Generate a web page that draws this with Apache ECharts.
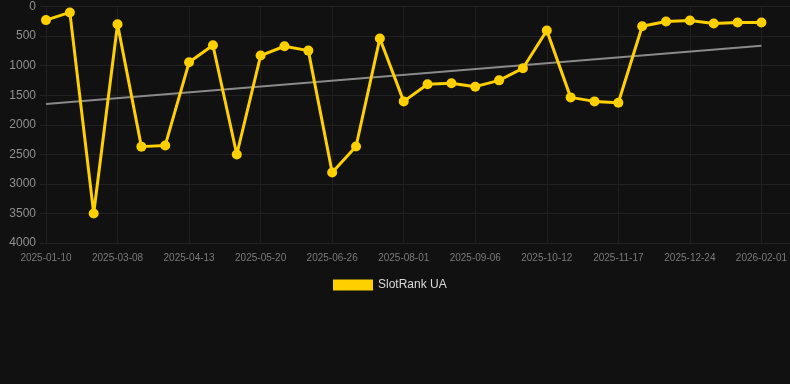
<!DOCTYPE html>
<html>
<head>
<meta charset="utf-8">
<script src="https://cdn.jsdelivr.net/npm/echarts@6/dist/echarts.min.js"></script>
<style>
html,body{margin:0;padding:0;background:#111111;}
#c{width:790px;height:384px;}
</style>
</head>
<body>
<div id="c"></div>
<script>
const dates = ['2025-01-10','2025-01-29','2025-02-17','2025-03-08','2025-03-20','2025-04-01','2025-04-13','2025-04-25','2025-05-08','2025-05-20','2025-06-01','2025-06-14','2025-06-26','2025-07-08','2025-07-20','2025-08-01','2025-08-13','2025-08-25','2025-09-06','2025-09-18','2025-09-30','2025-10-12','2025-10-24','2025-11-05','2025-11-17','2025-11-29','2025-12-11','2025-12-24','2026-01-06','2026-01-19','2026-02-01'];
const ranks = [230,100,3500,300,2370,2350,944,655,2503,830,672,746,2808,2367,540,1605,1316,1299,1356,1249,1045,407,1537,1605,1627,333,254,237,288,271,271];
const trendStart = 1650;
const trendEnd = 665;
const yTicks = [0,500,1000,1500,2000,2500,3000,3500,4000];
const seriesName = 'SlotRank UA';

const chart = echarts.init(document.getElementById('c'));
chart.setOption({
  backgroundColor: '#111111',
  animation: false,
  grid: [
    {left: 40, right: 0, top: 6.5, bottom: 141, containLabel: false},
    {left: 46, right: 28, top: 6.5, bottom: 141, containLabel: false}
  ],
  legend: {
    bottom: 88,
    left: 328,
    data: [seriesName],
    icon: 'rect',
    itemWidth: 40,
    itemHeight: 11,
    itemGap: 10,
    textStyle: {color: '#d8d8d8', fontSize: 12, fontFamily: 'Liberation Sans, Arial, sans-serif'}
  },
  xAxis: [
    {gridIndex: 0, type: 'value', show: false, min: 0, max: 1},
    {
      gridIndex: 1, type: 'category', data: dates, boundaryGap: false,
      axisLine: {show: false},
      axisTick: {show: false},
      axisLabel: {interval: 2, color: '#7a7a7a', fontSize: 10, margin: 10, fontFamily: 'Liberation Sans, Arial, sans-serif'},
      splitLine: {show: true, interval: 2, lineStyle: {color: '#1f1f1f', width: 1}}
    }
  ],
  yAxis: [
    {
      gridIndex: 0, type: 'value', inverse: true, min: yTicks[0], max: yTicks[yTicks.length-1], interval: 500,
      axisLine: {show: false}, axisTick: {show: false},
      axisLabel: {color: '#909090', fontSize: 12, margin: 4, fontFamily: 'Liberation Sans, Arial, sans-serif', formatter: function (v) { return String(v); }},
      splitLine: {show: true, lineStyle: {color: '#222222', width: 1}}
    },
    {
      gridIndex: 1, type: 'value', inverse: true, min: yTicks[0], max: yTicks[yTicks.length-1], interval: 500,
      show: false, splitLine: {show: false}
    }
  ],
  series: [
    {
      name: 'trend', type: 'line', xAxisIndex: 1, yAxisIndex: 1,
      data: [[0, trendStart], [dates.length - 1, trendEnd]],
      symbol: 'none', silent: true, z: 1,
      lineStyle: {color: '#8a8a8a', width: 2}
    },
    {
      name: seriesName, type: 'line', xAxisIndex: 1, yAxisIndex: 1,
      data: ranks, z: 3,
      symbol: 'circle', symbolSize: 10,
      itemStyle: {color: '#FFD000'},
      lineStyle: {color: '#FFD000', width: 3}
    }
  ]
});
</script>
</body>
</html>
